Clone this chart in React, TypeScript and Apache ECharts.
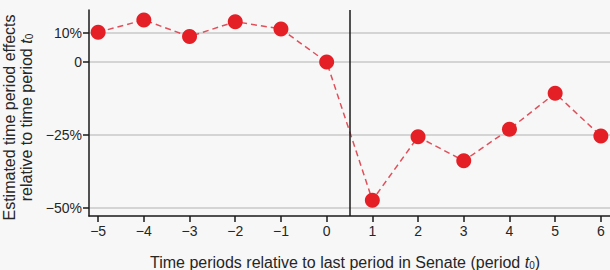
import React, { useEffect, useRef } from "react";
import * as echarts from "echarts";

const periods = [-5, -4, -3, -2, -1, 0, 1, 2, 3, 4, 5, 6];
const effects = [10.2, 14.4, 8.7, 13.8, 11.3, 0, -47.3, -25.6, -33.8, -23.0, -10.7, -25.3];
const yTickValues = [-50, -25, 0, 10];
const yTickLabels = ["\u221250%", "\u221225%", "0", "10%"];
const cutoff = 0.5;

const FONT = "'Liberation Sans', Arial, Helvetica, sans-serif";
const TEXT = "#262626";

export default function App() {
  const ref = useRef<HTMLDivElement>(null);
  useEffect(() => {
    const chart = echarts.init(ref.current!, null, { renderer: "svg" });
    const subRich = {
      i: { fontStyle: "italic", fontSize: 16, fontFamily: FONT, color: TEXT },
      s: { fontSize: 10, lineHeight: 6, verticalAlign: "bottom", fontFamily: FONT, color: TEXT },
    };
    chart.setOption({
      animation: false,
      backgroundColor: "#f7f7f7",
      grid: { left: 89, right: 0, top: 10, bottom: 54, containLabel: false, outerBoundsMode: "none" },
      xAxis: {
        type: "value",
        min: -5.2,
        max: 6.2,
        axisLine: { show: true, onZero: false, lineStyle: { color: "#1a1a1a", width: 1.5 } },
        axisTick: { show: true, length: 6, customValues: periods, lineStyle: { color: "#1a1a1a", width: 1.5 } },
        axisLabel: {
          customValues: periods,
          formatter: (v: number) => (v < 0 ? "\u2212" + Math.abs(v) : String(v)),
          margin: 8,
          fontSize: 14,
          color: TEXT,
          fontFamily: FONT,
        },
        splitLine: { show: false },
        name: "Time periods relative to last period in Senate (period {i|t}{s|0})",
        nameLocation: "middle",
        nameGap: 38,
        nameTextStyle: { fontSize: 16, color: TEXT, fontFamily: FONT, padding: [0, 9, 0, 0], rich: subRich },
      },
      yAxis: {
        type: "value",
        min: -52.7,
        max: 17.8,
        axisLine: { show: true, onZero: false, lineStyle: { color: "#1a1a1a", width: 1.5 } },
        axisTick: { show: true, length: 6, customValues: yTickValues, lineStyle: { color: "#1a1a1a", width: 1.5 } },
        axisLabel: {
          customValues: yTickValues,
          formatter: (v: number) => {
            const idx = yTickValues.indexOf(v);
            return idx >= 0 ? yTickLabels[idx] : "";
          },
          margin: 7,
          fontSize: 14,
          color: TEXT,
          fontFamily: FONT,
        },
        splitLine: { show: true, lineStyle: { color: "#c8c8c8", width: 1.5 } },
        name: "Estimated time period effects\nrelative to time period {i|t}{s|0}",
        nameLocation: "middle",
        nameRotate: 90,
        nameGap: 50,
        nameTextStyle: {
          fontSize: 16,
          lineHeight: 17,
          color: TEXT,
          fontFamily: FONT,
          align: "center",
          padding: [0, 9, 0, 0],
          rich: subRich,
        },
      },
      series: [
        {
          type: "line",
          data: periods.map((p, i) => [p, effects[i]]),
          symbol: "circle",
          symbolSize: 15,
          clip: false,
          itemStyle: { color: "#e41f26" },
          lineStyle: { color: "#e0505a", width: 1.5, type: [6, 4] },
          markLine: {
            silent: true,
            symbol: "none",
            label: { show: false },
            lineStyle: { color: "#1a1a1a", type: "solid", width: 1.5 },
            data: [{ xAxis: cutoff }],
          },
        },
      ],
    });
    return () => chart.dispose();
  }, []);
  return <div ref={ref} style={{ position: "fixed", left: 0, top: 0, width: 610, height: 270 }} />;
}
